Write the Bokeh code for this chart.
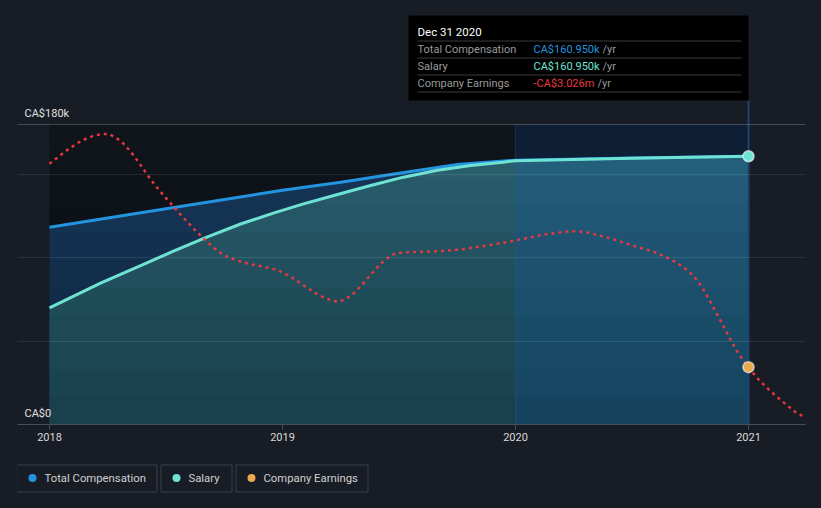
from bokeh.plotting import figure
from bokeh.models import Range1d, FixedTicker, Span, Label, BasicTickFormatter
from bokeh.layouts import column
from bokeh.embed import file_html
from bokeh.resources import INLINE
from bokeh.core.properties import value

BG = "#181c25"
FONT = "Roboto"
C_TOTAL = "#2394df"
C_SAL = "#6fe3d3"
C_EARN = "#e8383f"
C_EARN_DOT = "#e9a94e"

# ---------------- data ----------------
tick_years = [2018, 2019, 2020, 2021]

comp_years = [2018.0, 2018.5, 2019.0, 2019.25, 2019.5, 2019.75, 2020.0, 2020.5, 2021.0]
total_comp = [118400, 129500, 140500, 145300, 150800, 156000, 158600, 159900, 160950]

salary_years = [2018.0, 2018.219, 2018.391, 2018.532, 2018.678, 2018.820, 2018.961,
                2019.090, 2019.236, 2019.378, 2019.519, 2019.665, 2019.807, 2019.948,
                2020.0, 2020.5, 2021.0]
salary = [70000, 84800, 95300, 104000, 112600, 120300, 126800,
          132400, 138000, 143400, 148400, 152600, 155400, 157400,
          158300, 159800, 160950]

earn_years = [2018.00, 2018.069, 2018.119, 2018.169, 2018.226, 2018.258, 2018.308, 2018.348,
              2018.385, 2018.419, 2018.455, 2018.494, 2018.533, 2018.574, 2018.615, 2018.658,
              2018.701, 2018.748, 2018.806, 2018.863, 2018.920, 2018.980, 2019.031, 2019.060,
              2019.109, 2019.160, 2019.213, 2019.245, 2019.296, 2019.338, 2019.378, 2019.421,
              2019.464, 2019.492, 2019.578, 2019.671, 2019.764, 2019.850, 2019.936, 2020.000,
              2020.121, 2020.236, 2020.265, 2020.322, 2020.415, 2020.501, 2020.587, 2020.665,
              2020.722, 2020.765, 2020.801, 2020.830, 2020.858, 2020.887, 2020.915, 2020.944,
              2020.977, 2021.000, 2021.034, 2021.076, 2021.120, 2021.166, 2021.202, 2021.245]
earnings_m = [-0.837, -0.701, -0.615, -0.550, -0.514, -0.518, -0.593, -0.704,
              -0.830, -0.952, -1.073, -1.189, -1.299, -1.415, -1.525, -1.633,
              -1.734, -1.820, -1.881, -1.917, -1.945, -1.982, -2.046, -2.093,
              -2.176, -2.257, -2.311, -2.322, -2.254, -2.150, -2.031, -1.913,
              -1.824, -1.799, -1.784, -1.777, -1.759, -1.727, -1.691, -1.662,
              -1.598, -1.562, -1.562, -1.584, -1.644, -1.716, -1.777, -1.863,
              -1.950, -2.046, -2.165, -2.294, -2.423, -2.559, -2.692, -2.828,
              -2.954, -3.026, -3.134, -3.241, -3.341, -3.438, -3.510, -3.571]

grid_values = [50000, 100000, 150000]
top_value = 180000
y_label_values = [0, 180000]
y_label_texts = ["CA$0", "CA$180k"]

legend_names = ["Total Compensation", "Salary", "Company Earnings"]
legend_colors = [C_TOTAL, C_SAL, C_EARN_DOT]

# ---------------- layout helpers ----------------
X0, X1 = 2017.8627, 2021.2446
Y0, Y1 = 0, 249600
E0, E1 = -3.643, 0.835


def px(xp):  # page pixel x -> data x (for decorations)
    return 2018 + (xp - 49) / 233.0


def py(yp):  # page pixel y -> data y (for decorations)
    return (424 - yp) * 600.0


p = figure(width=821, height=456, x_range=Range1d(X0, X1), y_range=Range1d(Y0, Y1),
           output_backend="svg", toolbar_location=None, y_axis_location=None,
           min_border_left=17, min_border_right=16, min_border_top=8, min_border_bottom=32,
           background_fill_color=BG, border_fill_color=BG, outline_line_color=None)
p.extra_y_ranges = {"earn": Range1d(E0, E1)}

# x axis
p.xaxis.ticker = FixedTicker(ticks=tick_years)
p.xaxis.formatter = BasicTickFormatter(use_scientific=False)
p.xaxis.axis_line_color = "#4b4f57"
p.xaxis.major_tick_line_color = "#4b4f57"
p.xaxis.major_tick_out = 5
p.xaxis.major_tick_in = 0
p.xaxis.minor_tick_out = 0
p.xaxis.minor_tick_in = 0
p.xaxis.major_label_standoff = 3
p.xaxis.major_label_text_font = FONT
p.xaxis.major_label_text_font_size = "11px"
p.xaxis.major_label_text_color = "#d8d8d8"

# grid
p.xgrid.visible = False
p.ygrid.ticker = FixedTicker(ticks=grid_values)
p.ygrid.grid_line_color = "#ffffff"
p.ygrid.grid_line_alpha = 0.09
p.ygrid.level = "annotation"
p.add_layout(Span(location=top_value, dimension="width", line_color="#ffffff",
                  line_alpha=0.2, line_width=1))

# past region background
p.quad(left=comp_years[0], right=comp_years[-1], bottom=0, top=top_value,
       fill_color="#10141b", line_color=None)

# areas
p.varea(x=comp_years, y1=0, y2=total_comp, fill_color="#17395c")
p.varea(x=salary_years, y1=0, y2=salary, fill_color="#2b6272")

# vertical shading (darker towards the bottom)
for i in range(1, 11):
    p.quad(left=comp_years[0], right=comp_years[-1], bottom=0, top=16500 * i,
           fill_color="black", fill_alpha=0.035, line_color=None)

# highlighted last year
p.quad(left=tick_years[2], right=tick_years[3], bottom=0, top=top_value,
       fill_color="#0a5fd0", fill_alpha=0.15, line_color=None)
p.segment(x0=tick_years[2], y0=0, x1=tick_years[2], y1=top_value,
          line_color="#1f5fa0", line_alpha=0.35, line_width=1)
p.segment(x0=tick_years[3], y0=0, x1=tick_years[3], y1=py(100),
          line_color="#1d4470", line_width=2)

# lines
p.line(comp_years, total_comp, line_color=C_TOTAL, line_width=3)
p.line(salary_years, salary, line_color=C_SAL, line_width=3)
p.line(earn_years, earnings_m, y_range_name="earn", line_color=C_EARN,
       line_width=2.5, line_dash="3 4")

# markers at last point
p.scatter([comp_years[-1]], [salary[-1]], size=11, fill_color=C_SAL,
          line_color="#ffffff", line_alpha=0.6, line_width=1.5)
idx = earn_years.index(2021.000)
p.scatter([earn_years[idx]], [earnings_m[idx]], y_range_name="earn", size=11,
          fill_color=C_EARN_DOT, line_color="#ffffff", line_alpha=0.6, line_width=1.5)

# y labels
for v, t in zip(y_label_values, y_label_texts):
    p.add_layout(Label(x=X0, y=v, x_offset=7, y_offset=5, text=t,
                       text_font=FONT, text_font_size="11px", text_color="#e0e0e0",
                       text_baseline="bottom", text_align="left"))

# tooltip box
p.quad(left=px(408), right=px(748), bottom=py(100), top=py(15),
       fill_color="#000000", line_color=None)
p.add_layout(Label(x=px(417), y=py(31), text="Dec 31 2020", text_font=FONT,
                   text_font_size="11.5px", text_color="#ffffff", text_baseline="middle"))
for yy in [40.5, 57.5, 74.5, 91.5]:
    p.segment(x0=px(417), x1=px(741), y0=py(yy), y1=py(yy),
              line_color="#3a3a3a", line_width=1)

rows = [
    ("Total Compensation", f"CA${total_comp[-1] / 1000:.3f}k", C_TOTAL, 602),
    ("Salary", f"CA${salary[-1] / 1000:.3f}k", C_SAL, 602),
    ("Company Earnings", f"-CA${abs(earnings_m[idx]):.3f}m", C_EARN, 597),
]
for (name, val, col, yrx), yy in zip(rows, [48.5, 65.5, 82.5]):
    p.add_layout(Label(x=px(417), y=py(yy), text=name, text_font=FONT,
                       text_font_size="11px", text_color="#9a9a9a", text_baseline="middle"))
    p.add_layout(Label(x=px(533), y=py(yy), text=val, text_font=FONT,
                       text_font_size="11px", text_color=col, text_baseline="middle"))
    p.add_layout(Label(x=px(yrx), y=py(yy), text="/yr", text_font=FONT,
                       text_font_size="11px", text_color="#9a9a9a", text_baseline="middle"))

# ---------------- legend figure (page pixel coordinates) ----------------
lg = figure(width=821, height=52, x_range=Range1d(17, 805), y_range=Range1d(0, 52),
            output_backend="svg", toolbar_location=None, x_axis_location=None,
            y_axis_location=None, min_border_left=17, min_border_right=16,
            min_border_top=0, min_border_bottom=0,
            background_fill_color=BG, border_fill_color=BG, outline_line_color=None)
lg.xgrid.visible = False
lg.ygrid.visible = False

box_l = [16.5, 160.5, 235.5]
box_r = [156.5, 231.5, 367.5]
dot_x = [32, 176, 251]
txt_x = [44, 188, 263]
lg.quad(left=box_l, right=box_r, bottom=16.5, top=43.5, fill_color=None,
        line_color="#3a3f4b", line_width=1)
lg.scatter(dot_x, [30.5] * 3, size=8, fill_color=legend_colors, line_color=None)
lg.text(x=txt_x, y=[30.5] * 3, text=legend_names, text_font=value(FONT),
        text_font_size="11.3px", text_color="#d0d0d0", text_baseline="middle")

layout = column(p, lg, spacing=0)
html = file_html(layout, INLINE)
html = html.replace("</head>",
                    "<style>html, body { background: %s !important; }</style></head>" % BG, 1)
open("out.html", "w").write(html)
